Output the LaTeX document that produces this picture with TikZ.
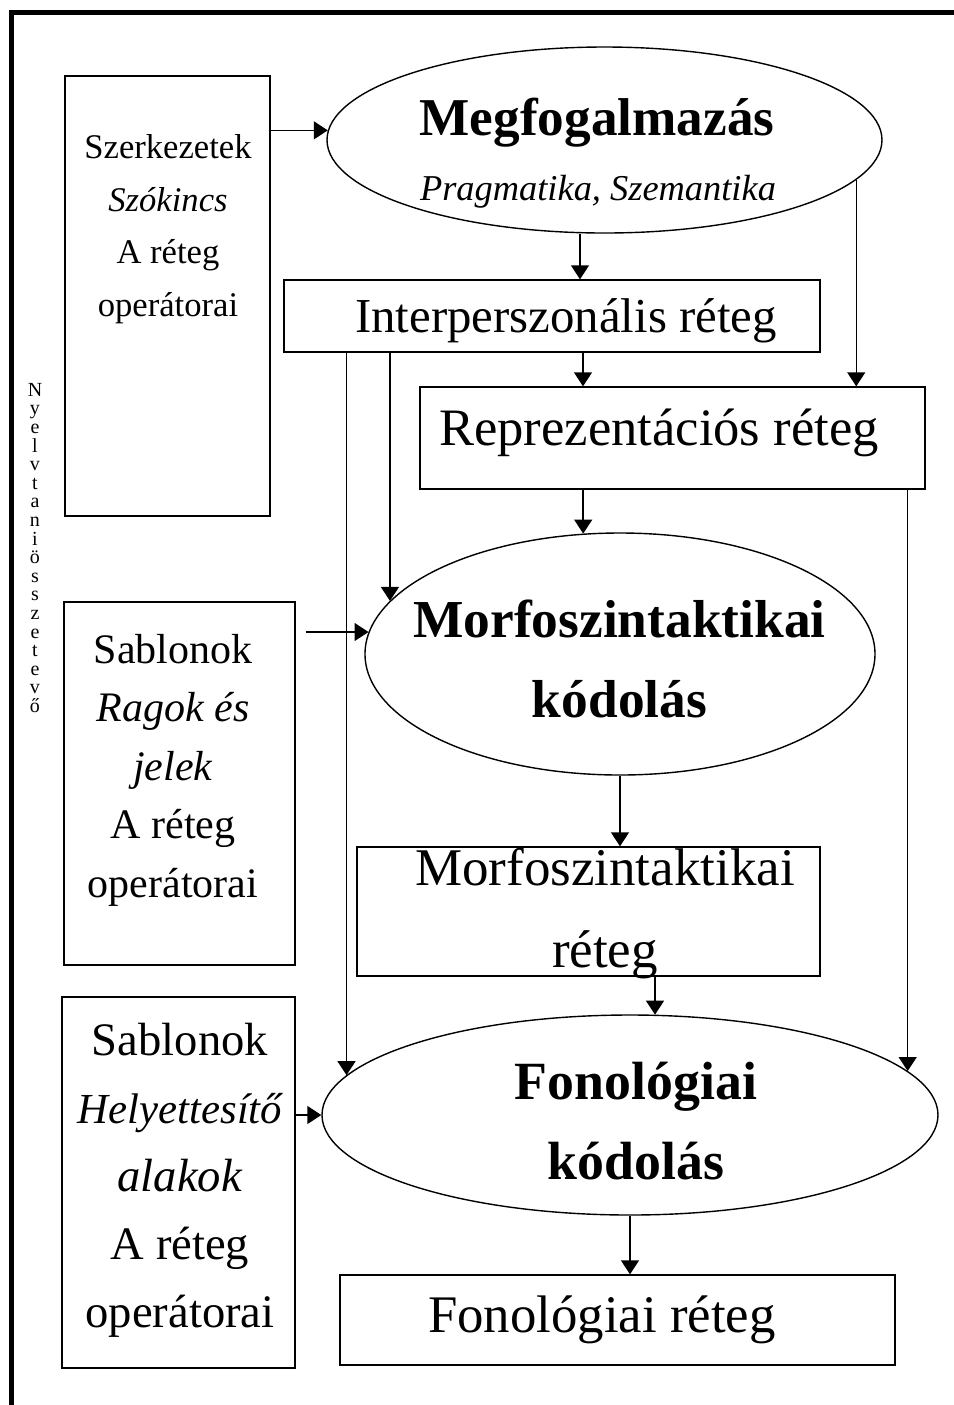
\documentclass[tikz,border=0pt]{standalone}
\usepackage{fontspec}
\setmainfont{Liberation Serif}
\usetikzlibrary{shapes.geometric, arrows.meta}
\newcommand{\stackfont}{\fontsize{10}{9.3}\selectfont\lineskiplimit=-10pt\relax}

\begin{document}
\begin{tikzpicture}[x=0.5pt, y=-0.5pt,
    box/.style={draw, line width=0.7pt, rectangle, inner sep=0pt},
    oval/.style={draw, line width=0.7pt, ellipse, inner sep=0pt},
    arr/.style={line width=0.7pt, -{Triangle[width=9pt,length=7pt]}},
    lines/.style={align=center, inner sep=0pt}]
	\useasboundingbox (0,0) rectangle (954,1405);
	\draw[line width=2.5pt] (954,12) -- (11,12) -- (11,1405);
	% left column
	\node[box, minimum width=102.5pt, minimum height=220pt] (szerk) at (167.5,296) {};
	\node[lines, font=\fontsize{17.3}{26.25}\selectfont] (szerkt) at (168,229) {Szerkezetek\\\textit{Szókincs}\\A réteg\\operátorai};
	\node[box, minimum width=115.5pt, minimum height=181.5pt] (sab1) at (179.5,783.5) {};
	\node[lines, font=\fontsize{21}{29.25}\selectfont] (sab1t) at (173,770) {Sablonok\\\textit{Ragok és}\\\textit{jelek}\\A réteg\\operátorai};
	\node[box, minimum width=116.5pt, minimum height=185.5pt] (sab2) at (178.5,1182.5) {};
	\node[lines, font=\fontsize{23.3}{34}\selectfont] (sab2t) at (180,1180) {Sablonok\\{\fontsize{21.4}{34}\selectfont\itshape Helyettesítő}\\\textit{alakok}\\A réteg\\operátorai};
	\node[lines, font=\stackfont] (nyelv) at (35,548) {N\\y\\e\\l\\v\\t\\a\\n\\i\\ö\\s\\s\\z\\e\\t\\e\\v\\ő};
	% layers
	\node[oval, minimum width=277.5pt, minimum height=93pt] (megf) at (604.5,140) {};
	\node[anchor=base, font=\fontsize{26.6}{30}\selectfont\bfseries] (megft) at (597,135) {Megfogalmazás};
	\node[anchor=base, font=\fontsize{18.2}{22}\selectfont\itshape] (pragt) at (598,200) {Pragmatika, Szemantika};
	\node[box, minimum width=268pt, minimum height=36pt] (interp) at (552,316) {};
	\node[anchor=base, font=\fontsize{24.4}{28}\selectfont] (interpt) at (566,332) {Interperszonális réteg};
	\node[box, minimum width=252.5pt, minimum height=51pt] (repr) at (672.5,438) {};
	\node[anchor=base west, font=\fontsize{26.3}{30}\selectfont] (reprt) at (432,445) {Reprezentációs réteg};
	\node[oval, minimum width=255pt, minimum height=121pt] (morf) at (620,654) {};
	\node[lines, font=\fontsize{26.7}{40}\selectfont\bfseries] (morft) at (619.5,659) {Morfoszintaktikai\\kódolás};
	\node[box, minimum width=231.5pt, minimum height=64.5pt] (morfr) at (588.5,911.5) {};
	\node[lines, font=\fontsize{26.5}{41}\selectfont] (morfrt) at (605,914) {Morfoszintaktikai\\réteg};
	\node[oval, minimum width=308pt, minimum height=100pt] (fon) at (630,1115) {};
	\node[lines, font=\fontsize{26.9}{40}\selectfont\bfseries] (fonkt) at (636,1121.5) {Fonológiai\\kódolás};
	\node[box, minimum width=277.5pt, minimum height=45pt] (fonr) at (617.5,1320) {};
	\node[anchor=base, font=\fontsize{26.4}{30}\selectfont] (fonrt) at (602,1332) {Fonológiai réteg};
	% arrows
	\coordinate (megfb) at ([xshift=-12.25pt]megf.south);
	\coordinate (interpb) at ([xshift=15.5pt]interp.south);
	\draw[arr] (szerk.east |- megf.178) -- (megf.178);
	\draw[arr] (megfb) -- (megfb |- interp.north);
	\draw[arr] (megf.-9) -- (megf.-9 |- repr.north);
	\draw[arr] (interpb) -- (interpb |- repr.north);
	\draw[arr] (morf.167 |- interp.south) -- (morf.167);
	\draw[arr] (fon.172 |- interp.south) -- (fon.172);
	\draw[arr] (morf.107 |- repr.south) -- (morf.107);
	\draw[arr] (fon.9 |- repr.south) -- (fon.9);
	\draw[arr, shorten <=5pt] (sab1.east |- morf.175) -- (morf.175);
	\draw[arr] (morf.south) -- (morf.south |- morfr.north);
	\draw[arr] (fon.76 |- morfr.south) -- (fon.76);
	\draw[arr] (sab2.east |- fon.west) -- (fon.west);
	\draw[arr] (fon.south) -- (fon.south |- fonr.north);
\end{tikzpicture}
\end{document}
